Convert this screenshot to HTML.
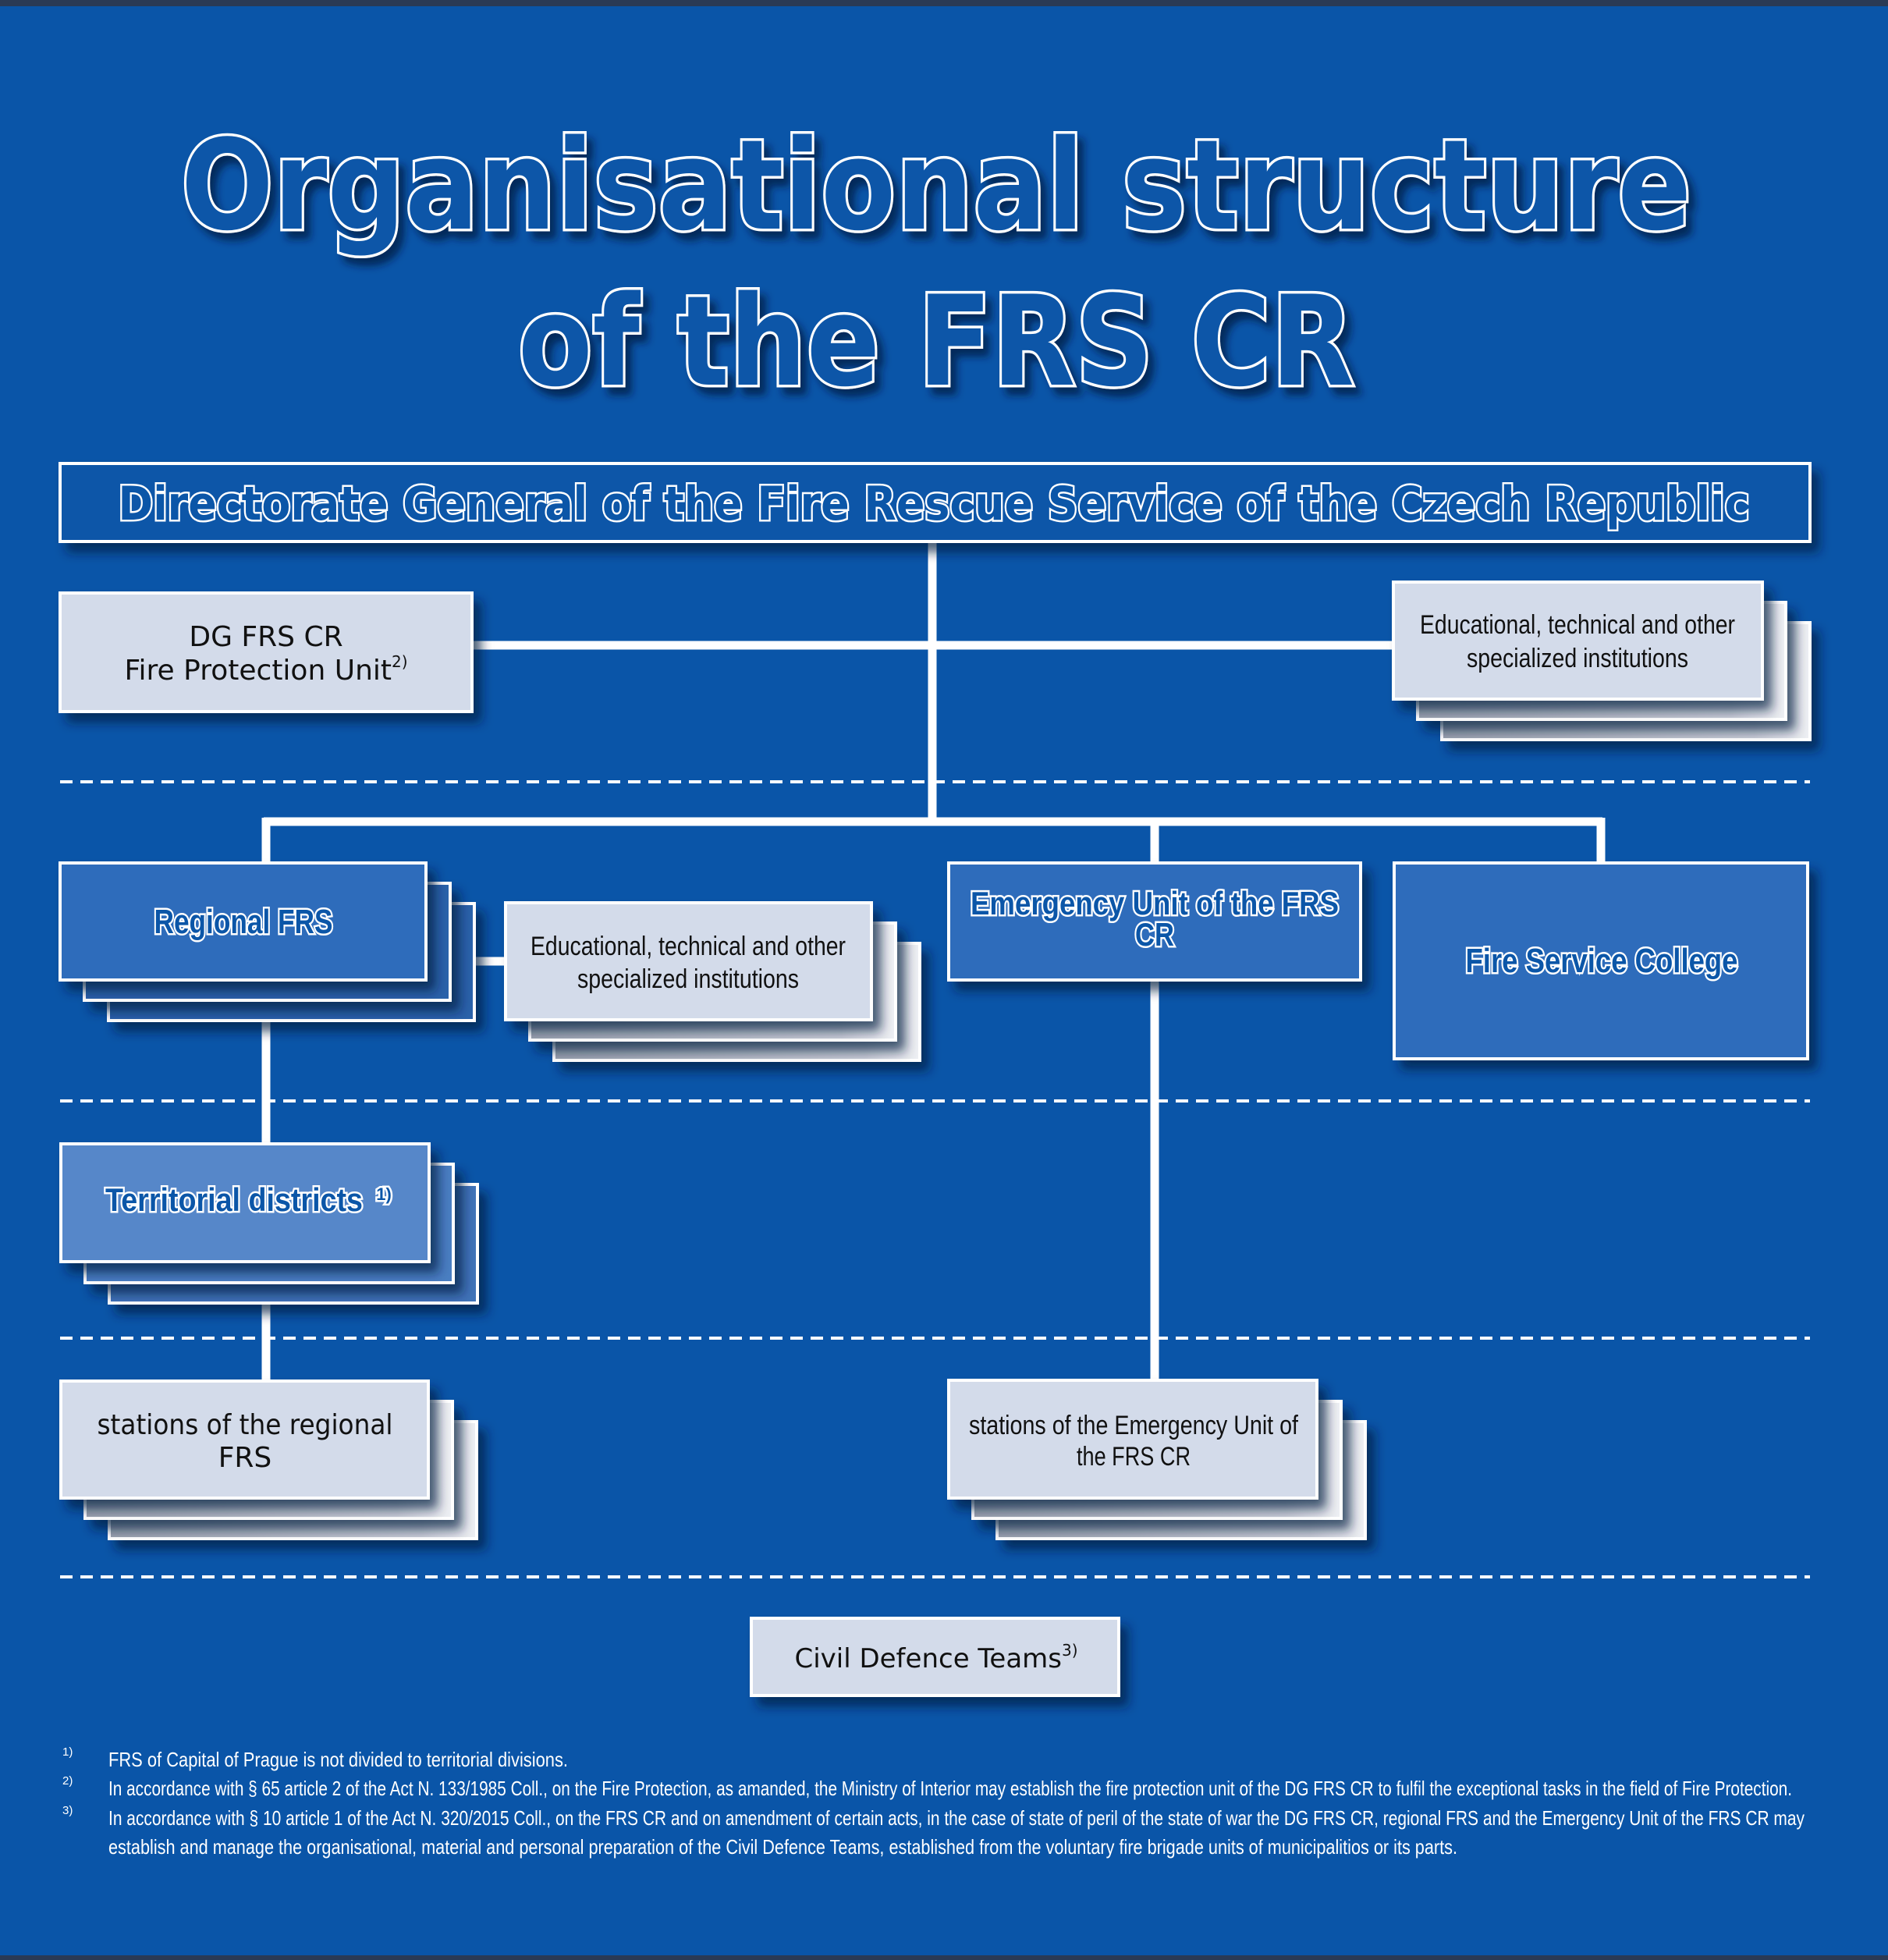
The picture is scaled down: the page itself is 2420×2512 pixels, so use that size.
<!DOCTYPE html>
<html><head><meta charset="utf-8"><style>
html,body{margin:0;padding:0;background:#0a55a8;}
svg{display:block;}
</style></head><body>
<svg width="2420" height="2512" viewBox="0 0 2420 2512" xmlns="http://www.w3.org/2000/svg">
<defs>
<filter id="sh" x="-10%" y="-10%" width="130%" height="140%"><feDropShadow dx="10" dy="12" stdDeviation="7" flood-color="#021a40" flood-opacity="0.7"/></filter>
<filter id="ts" x="-5%" y="-10%" width="115%" height="140%"><feDropShadow dx="8" dy="10" stdDeviation="5" flood-color="#021a40" flood-opacity="0.75"/></filter>
<linearGradient id="gr" x1="0" y1="0" x2="1" y2="0"><stop offset="0" stop-color="#9aa3ae"/><stop offset="0.85" stop-color="#c9ced6"/><stop offset="1" stop-color="#eef0f4"/></linearGradient>
</defs>
<rect x="0" y="0" width="2420" height="2512" fill="#0a55a8"/>
<rect x="0" y="0" width="2420" height="8" fill="#2a3a55"/>
<rect x="0" y="2506" width="2420" height="6" fill="#2a3a55"/>

<g filter="url(#ts)" font-family="'DejaVu Sans','Liberation Sans',sans-serif" font-weight="bold" fill="#0b56a8" stroke="#ffffff" stroke-width="7" paint-order="stroke" text-anchor="middle">
<text x="1200" y="293" font-size="160" textLength="1936" lengthAdjust="spacingAndGlyphs">Organisational structure</text>
<text x="1200" y="493" font-size="160" textLength="1072" lengthAdjust="spacingAndGlyphs">of the FRS CR</text>
</g>

<g stroke="#ffffff" stroke-width="4" stroke-dasharray="16 10">
<line x1="77" y1="1002" x2="2320" y2="1002"/>
<line x1="77" y1="1411" x2="2320" y2="1411"/>
<line x1="77" y1="1715" x2="2320" y2="1715"/>
<line x1="77" y1="2021" x2="2320" y2="2021"/>
</g>

<g stroke="#ffffff" stroke-width="11" fill="none">
<line x1="1195" y1="694" x2="1195" y2="1053"/>
<line x1="605" y1="827" x2="1786" y2="827"/>
<line x1="338" y1="1053" x2="2054" y2="1053"/>
<line x1="341" y1="1048" x2="341" y2="1106"/>
<line x1="1480" y1="1048" x2="1480" y2="1106"/>
<line x1="2052" y1="1048" x2="2052" y2="1106"/>
<line x1="341" y1="1300" x2="341" y2="1466"/>
<line x1="341" y1="1660" x2="341" y2="1772"/>
<line x1="1480" y1="1256" x2="1480" y2="1770"/>
<line x1="605" y1="1232" x2="648" y2="1232"/>
</g>

<rect x="77" y="594" width="2243" height="100" fill="#0b56a8" stroke="#ffffff" stroke-width="4" filter="url(#sh)"/>
<text x="1197" y="666" font-family="'DejaVu Sans','Liberation Sans',sans-serif" font-weight="bold" font-size="60" fill="#0b56a8" stroke="#ffffff" stroke-width="5" paint-order="stroke" text-anchor="middle" textLength="2091" lengthAdjust="spacingAndGlyphs">Directorate General of the Fire Rescue Service of the Czech Republic</text>

<rect x="77" y="760" width="528" height="152" fill="#d3dbea" stroke="#ffffff" stroke-width="4" filter="url(#sh)"/>
<g font-family="'DejaVu Sans','Liberation Sans',sans-serif" font-size="36" fill="#111" text-anchor="middle">
<text x="341" y="828">DG FRS CR</text>
<text x="341" y="871">Fire Protection Unit<tspan font-size="20" dy="-16">2)</tspan></text>
</g>

<g stroke="#ffffff" stroke-width="4">
<rect x="1848" y="798" width="472" height="150" fill="url(#gr)" filter="url(#sh)"/>
<rect x="1817" y="772" width="472" height="150" fill="url(#gr)" filter="url(#sh)"/>
<rect x="1786" y="746" width="473" height="150" fill="#d3dbea" filter="url(#sh)"/>
</g>
<g font-family="'Liberation Sans Narrow','Liberation Sans',sans-serif" font-size="34" fill="#111" text-anchor="middle">
<text x="2022" y="812" textLength="404" lengthAdjust="spacingAndGlyphs">Educational, technical and other</text>
<text x="2022" y="855" textLength="284" lengthAdjust="spacingAndGlyphs">specialized institutions</text>
</g>

<g stroke="#ffffff" stroke-width="4">
<rect x="139" y="1158" width="469" height="150" fill="#2a62aa" filter="url(#sh)"/>
<rect x="108" y="1132" width="469" height="150" fill="#2a62aa" filter="url(#sh)"/>
<rect x="77" y="1106" width="469" height="150" fill="#2f6cbb" filter="url(#sh)"/>
</g>

<g stroke="#ffffff" stroke-width="4">
<rect x="710" y="1209" width="469" height="150" fill="url(#gr)" filter="url(#sh)"/>
<rect x="679" y="1183" width="469" height="150" fill="url(#gr)" filter="url(#sh)"/>
<rect x="648" y="1157" width="469" height="150" fill="#d3dbea" filter="url(#sh)"/>
</g>
<g font-family="'Liberation Sans Narrow','Liberation Sans',sans-serif" font-size="34" fill="#111" text-anchor="middle">
<text x="882" y="1224" textLength="404" lengthAdjust="spacingAndGlyphs">Educational, technical and other</text>
<text x="882" y="1266" textLength="284" lengthAdjust="spacingAndGlyphs">specialized institutions</text>
</g>

<rect x="1216" y="1106" width="528" height="150" fill="#2f6cbb" stroke="#ffffff" stroke-width="4" filter="url(#sh)"/>
<rect x="1787" y="1106" width="530" height="251" fill="#2f6cbb" stroke="#ffffff" stroke-width="4" filter="url(#sh)"/>

<g stroke="#ffffff" stroke-width="4">
<rect x="140" y="1518" width="472" height="152" fill="#3f73b8" filter="url(#sh)"/>
<rect x="109" y="1492" width="472" height="152" fill="#4a7ec2" filter="url(#sh)"/>
<rect x="78" y="1466" width="472" height="151" fill="#5787c9" filter="url(#sh)"/>
</g>

<g stroke="#ffffff" stroke-width="4">
<rect x="140" y="1822" width="471" height="150" fill="url(#gr)" filter="url(#sh)"/>
<rect x="109" y="1796" width="471" height="150" fill="url(#gr)" filter="url(#sh)"/>
<rect x="78" y="1770" width="471" height="150" fill="#d3dbea" filter="url(#sh)"/>
</g>
<g font-family="'DejaVu Sans','Liberation Sans',sans-serif" font-size="36" fill="#111" text-anchor="middle">
<text x="314" y="1838" textLength="379" lengthAdjust="spacingAndGlyphs">stations of the regional</text>
<text x="314" y="1880">FRS</text>
</g>

<g stroke="#ffffff" stroke-width="4">
<rect x="1278" y="1822" width="472" height="150" fill="url(#gr)" filter="url(#sh)"/>
<rect x="1247" y="1796" width="472" height="150" fill="url(#gr)" filter="url(#sh)"/>
<rect x="1216" y="1769" width="472" height="151" fill="#d3dbea" filter="url(#sh)"/>
</g>
<g font-family="'Liberation Sans Narrow','Liberation Sans',sans-serif" font-size="34" fill="#111" text-anchor="middle">
<text x="1453" y="1838" textLength="422" lengthAdjust="spacingAndGlyphs">stations of the Emergency Unit of</text>
<text x="1453" y="1878" textLength="146" lengthAdjust="spacingAndGlyphs">the FRS CR</text>
</g>

<rect x="963" y="2074" width="471" height="99" fill="#d3dbea" stroke="#ffffff" stroke-width="4" filter="url(#sh)"/>
<text x="1200" y="2137" font-family="'DejaVu Sans','Liberation Sans',sans-serif" font-size="34" fill="#111" text-anchor="middle">Civil Defence Teams<tspan font-size="20" dy="-15">3)</tspan></text>

<g font-family="'Liberation Sans Narrow','Liberation Sans',sans-serif" font-weight="bold" fill="#0b56a8" stroke="#ffffff" stroke-width="5" paint-order="stroke" text-anchor="middle">
<text x="312" y="1196" font-size="44" textLength="229" lengthAdjust="spacingAndGlyphs">Regional FRS</text>
<text x="1480" y="1172" font-size="42" textLength="472" lengthAdjust="spacingAndGlyphs">Emergency Unit of the FRS</text>
<text x="1480" y="1212" font-size="42" textLength="50" lengthAdjust="spacingAndGlyphs">CR</text>
<text x="2053" y="1246" font-size="44" textLength="349" lengthAdjust="spacingAndGlyphs">Fire Service College</text>
<text x="300" y="1552" font-size="42" textLength="330" lengthAdjust="spacingAndGlyphs">Territorial districts</text>
<text x="492" y="1538" font-size="22">1)</text>
</g>

<g font-family="'Liberation Sans Narrow','Liberation Sans',sans-serif" font-size="26" fill="#ffffff">
<text x="80" y="2250" font-size="15">1)</text>
<text x="80" y="2287" font-size="15">2)</text>
<text x="80" y="2325" font-size="15">3)</text>
<text x="139" y="2264" textLength="589" lengthAdjust="spacingAndGlyphs">FRS of Capital of Prague is not divided to territorial divisions.</text>
<text x="139" y="2301" textLength="2158" lengthAdjust="spacingAndGlyphs">In accordance with § 65 article 2 of the Act N. 133/1985 Coll., on the Fire Protection, as amanded, the Ministry of Interior may establish the fire protection unit of the DG FRS CR to fulfil the exceptional tasks in the field of Fire Protection.</text>
<text x="139" y="2339" textLength="2174" lengthAdjust="spacingAndGlyphs">In accordance with § 10 article 1 of the Act N. 320/2015 Coll., on the FRS CR and on amendment of certain acts, in the case of state of peril of the state of war the DG FRS CR, regional FRS and the Emergency Unit of the FRS CR may</text>
<text x="139" y="2376" textLength="1729" lengthAdjust="spacingAndGlyphs">establish and manage the organisational, material and personal preparation of the Civil Defence Teams, established from the voluntary fire brigade units of municipalitios or its parts.</text>
</g>
</svg>
</body></html>
